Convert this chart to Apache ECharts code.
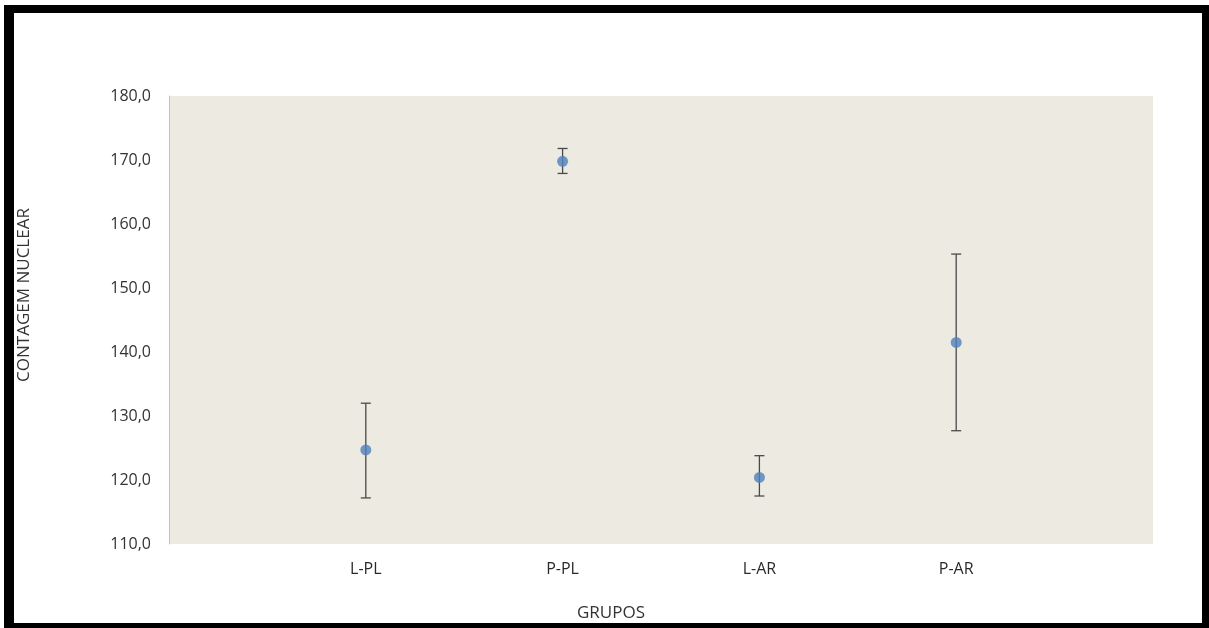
<!DOCTYPE html>
<html><head><meta charset="utf-8">
<script src="https://cdn.jsdelivr.net/npm/echarts@6/dist/echarts.min.js"></script>
<style>
html,body{margin:0;padding:0;background:#fff;}
#c{position:absolute;left:0;top:0;width:1209px;height:628px;}
#frame{position:absolute;left:4px;top:5px;width:1205px;height:623px;box-sizing:border-box;border-style:solid;border-color:#000;border-width:8px 7px 5px 10px;pointer-events:none;}
</style></head>
<body>
<div id="c"></div>
<div id="frame"></div>
<script>
const categories = ['L-PL', 'P-PL', 'L-AR', 'P-AR'];
const means = [124.7, 169.8, 120.4, 141.5];
const upper = [132.0, 171.8, 123.8, 155.3];
const lower = [117.2, 167.9, 117.5, 127.7];
const yTicks = [110, 120, 130, 140, 150, 160, 170, 180];

const pts = categories.map((c, i) => [i + 1, means[i]]);
const errs = categories.map((c, i) => [i + 1, lower[i], upper[i]]);

const chart = echarts.init(document.getElementById('c'));
const font = '"Open Sans", "DejaVu Sans", sans-serif';
const txt = '#333333';
chart.setOption({
  animation: false,
  grid: { left: 169, top: 96, right: 56, bottom: 84, show: true, backgroundColor: '#ECEAE1', borderWidth: 0 },
  xAxis: {
    type: 'value', min: 0, max: 5, interval: 1,
    name: 'GRUPOS', nameLocation: 'middle', nameGap: 61,
    nameTextStyle: { fontFamily: font, fontSize: 17, color: txt, padding: [0, 100, 0, 0] },
    axisLine: { show: false }, axisTick: { show: false }, splitLine: { show: false },
    axisLabel: {
      margin: 17, fontFamily: font, fontSize: 16, color: '#2a2a2a',
      formatter: v => categories[v - 1] || ''
    }
  },
  yAxis: {
    type: 'value', min: yTicks[0], max: yTicks[yTicks.length - 1], interval: 10,
    name: 'CONTAGEM NUCLEAR', nameLocation: 'middle', nameGap: 136,
    nameTextStyle: { fontFamily: font, fontSize: 17, color: txt, padding: [0, 0, 0, 50] },
    axisLine: { show: true, lineStyle: { color: '#BFBFBF', width: 1 } },
    axisTick: { show: false }, splitLine: { show: false },
    axisLabel: { margin: 18, fontFamily: font, fontSize: 16, color: txt,
      formatter: v => v.toFixed(1).replace('.', ',') }
  },
  series: [
    {
      type: 'custom',
      data: errs,
      renderItem: function (params, api) {
        const x = api.value(0);
        const lo = api.coord([x, api.value(1)]);
        const hi = api.coord([x, api.value(2)]);
        const hw = 5;
        const style = { stroke: '#4A4A4A', lineWidth: 1.3 };
        return {
          type: 'group',
          children: [
            { type: 'line', shape: { x1: lo[0], y1: lo[1], x2: hi[0], y2: hi[1] }, style },
            { type: 'line', shape: { x1: lo[0] - hw, y1: lo[1], x2: lo[0] + hw, y2: lo[1] }, style },
            { type: 'line', shape: { x1: hi[0] - hw, y1: hi[1], x2: hi[0] + hw, y2: hi[1] }, style }
          ]
        };
      },
      z: 2
    },
    {
      type: 'scatter',
      data: pts,
      symbol: 'circle', symbolSize: 11,
      itemStyle: { color: '#4F81BD' },
      z: 3
    }
  ]
});
</script>
</body></html>
